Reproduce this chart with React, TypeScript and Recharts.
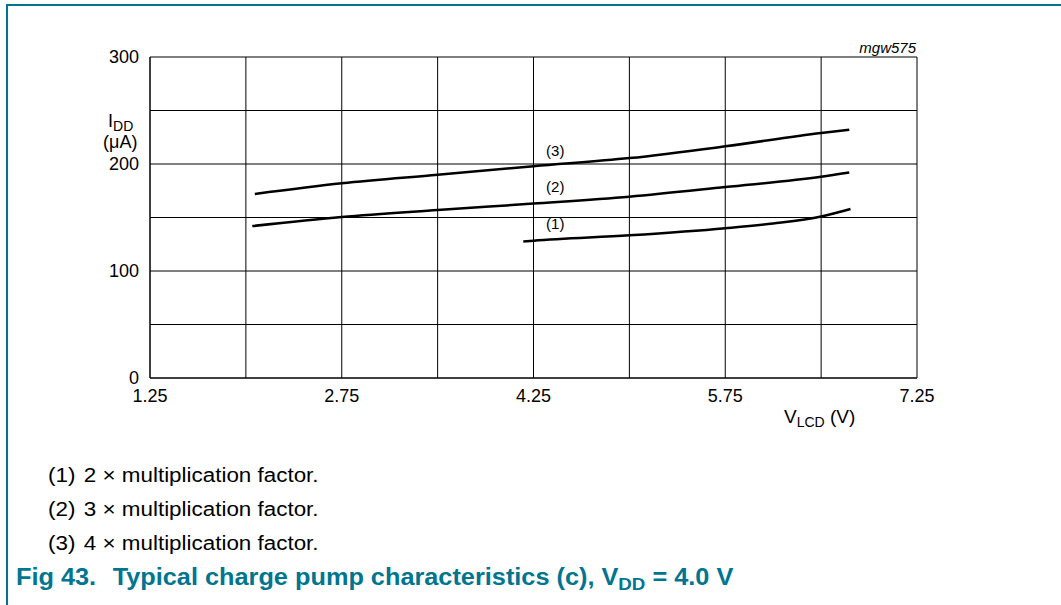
import React from "react";
import {
  ComposedChart,
  Line,
  Scatter,
  XAxis,
  YAxis,
  CartesianGrid,
} from "recharts";

// V_LCD (V) ticks and I_DD (uA) ticks
const xTicks = [1.25, 2.0, 2.75, 3.5, 4.25, 5.0, 5.75, 6.5, 7.25];
const xLabelled = [1.25, 2.75, 4.25, 5.75, 7.25];
const yTicks = [0, 50, 100, 150, 200, 250, 300];
const yLabelled = [0, 100, 200, 300];

// curve (1): 2x multiplication factor
const curve1 = [
  { v: 4.17, i: 127.5 },
  { v: 4.25, i: 128.3 },
  { v: 5.0, i: 133.3 },
  { v: 5.75, i: 140 },
  { v: 6.125, i: 144.5 },
  { v: 6.5, i: 151 },
  { v: 6.73, i: 158 },
];
// curve (2): 3x multiplication factor
const curve2 = [
  { v: 2.05, i: 142 },
  { v: 2.75, i: 150.5 },
  { v: 3.5, i: 157 },
  { v: 4.25, i: 163 },
  { v: 5.0, i: 169.5 },
  { v: 5.75, i: 178.5 },
  { v: 6.5, i: 188 },
  { v: 6.72, i: 192 },
];
// curve (3): 4x multiplication factor
const curve3 = [
  { v: 2.07, i: 172 },
  { v: 2.75, i: 182 },
  { v: 3.5, i: 190 },
  { v: 4.25, i: 198 },
  { v: 5.0, i: 205.5 },
  { v: 5.75, i: 216.5 },
  { v: 6.5, i: 229 },
  { v: 6.72, i: 232 },
];

const curveLabels = [
  { v: 4.42, i: 142.5, name: "(1)" },
  { v: 4.42, i: 178, name: "(2)" },
  { v: 4.42, i: 211.5, name: "(3)" },
];

const notes = [
  ["(1)", "2 \u00d7 multiplication factor."],
  ["(2)", "3 \u00d7 multiplication factor."],
  ["(3)", "4 \u00d7 multiplication factor."],
];

const teal = "#00758f";
const font = "'Liberation Sans', Arial, sans-serif";

const CurveName = (props: any) => (
  <text
    x={props.cx}
    y={props.cy}
    textAnchor="middle"
    dominantBaseline="middle"
    fontSize={15}
    fontFamily={font}
    fill="#000"
  >
    {props.payload.name}
  </text>
);

export default function App() {
  return (
    <div
      style={{
        position: "absolute",
        left: 0,
        top: 0,
        width: 1061,
        height: 605,
        background: "#fff",
        fontFamily: font,
        overflow: "hidden",
      }}
    >
      {/* frame */}
      <div
        style={{
          position: "absolute",
          left: 6,
          top: 4,
          width: 1061,
          height: 620,
          borderTop: `2px solid ${teal}`,
          borderLeft: `2px solid ${teal}`,
        }}
      />
      <ComposedChart
        width={1061}
        height={605}
        margin={{ top: 57, right: 144, bottom: 0, left: 0 }}
        style={{ position: "absolute", left: 0, top: 0 }}
      >
        <CartesianGrid stroke="#000" strokeWidth={1} />
        <XAxis
          type="number"
          dataKey="v"
          domain={[1.25, 7.25]}
          ticks={xTicks}
          interval={0}
          height={227}
          tickLine={false}
          axisLine={{ stroke: "#000" }}
          tickSize={0}
          tickMargin={11}
          tickFormatter={(t: number) =>
            xLabelled.includes(t) ? t.toFixed(2) : ""
          }
          tick={{ fontSize: 18, fill: "#000", fontFamily: font }}
          allowDuplicatedCategory={false}
        />
        <YAxis
          type="number"
          dataKey="i"
          domain={[0, 300]}
          ticks={yTicks}
          interval={0}
          width={150}
          tickLine={false}
          axisLine={{ stroke: "#000" }}
          tickSize={0}
          tickMargin={11}
          tickFormatter={(t: number) => (yLabelled.includes(t) ? String(t) : "")}
          tick={{ fontSize: 18, fill: "#000", fontFamily: font }}
        />
        <Line
          data={curve1}
          dataKey="i"
          type="monotone"
          stroke="#000"
          strokeWidth={2.5}
          dot={false}
          activeDot={false}
          isAnimationActive={false}
        />
        <Line
          data={curve2}
          dataKey="i"
          type="monotone"
          stroke="#000"
          strokeWidth={2.5}
          dot={false}
          activeDot={false}
          isAnimationActive={false}
        />
        <Line
          data={curve3}
          dataKey="i"
          type="monotone"
          stroke="#000"
          strokeWidth={2.5}
          dot={false}
          activeDot={false}
          isAnimationActive={false}
        />
        <Scatter
          data={curveLabels}
          dataKey="i"
          shape={CurveName}
          isAnimationActive={false}
        />
      </ComposedChart>

      {/* axis titles */}
      <div
        style={{
          position: "absolute",
          left: 108,
          top: 111,
          fontSize: 18,
          lineHeight: "20px",
        }}
      >
        I<sub style={{ fontSize: 14, verticalAlign: "-4px" }}>DD</sub>
      </div>
      <div
        style={{
          position: "absolute",
          left: 103,
          top: 132,
          fontSize: 18,
          lineHeight: "20px",
        }}
      >
        ({"\u03bc"}A)
      </div>
      <div style={{ position: "absolute", left: 784, top: 406, fontSize: 19 }}>
        V<sub style={{ fontSize: 14, verticalAlign: "-4px" }}>LCD</sub> (V)
      </div>
      <div
        style={{
          position: "absolute",
          right: 1061 - 916,
          top: 39,
          fontSize: 15,
          fontStyle: "italic",
        }}
      >
        mgw575
      </div>

      {/* notes */}
      {notes.map(([n, txt], k) => (
        <div
          key={n}
          style={{
            position: "absolute",
            left: 48,
            top: 462 + k * 34,
            fontSize: 20,
            lineHeight: "26px",
            whiteSpace: "nowrap",
            transform: "scaleX(1.12)",
            transformOrigin: "left center",
          }}
        >
          <span style={{ display: "inline-block", width: 32 }}>{n}</span>
          {txt}
        </div>
      ))}

      {/* caption */}
      <div
        style={{
          position: "absolute",
          left: 16,
          top: 563,
          fontSize: 23,
          lineHeight: "28px",
          fontWeight: "bold",
          color: teal,
          whiteSpace: "nowrap",
          transform: "scaleX(1.1)",
          transformOrigin: "left center",
        }}
      >
        Fig 43.<span style={{ display: "inline-block", width: 15 }} />
        Typical charge pump characteristics (c), V
        <sub style={{ fontSize: 17, verticalAlign: "-5px" }}>DD</sub> = 4.0 V
      </div>
    </div>
  );
}
